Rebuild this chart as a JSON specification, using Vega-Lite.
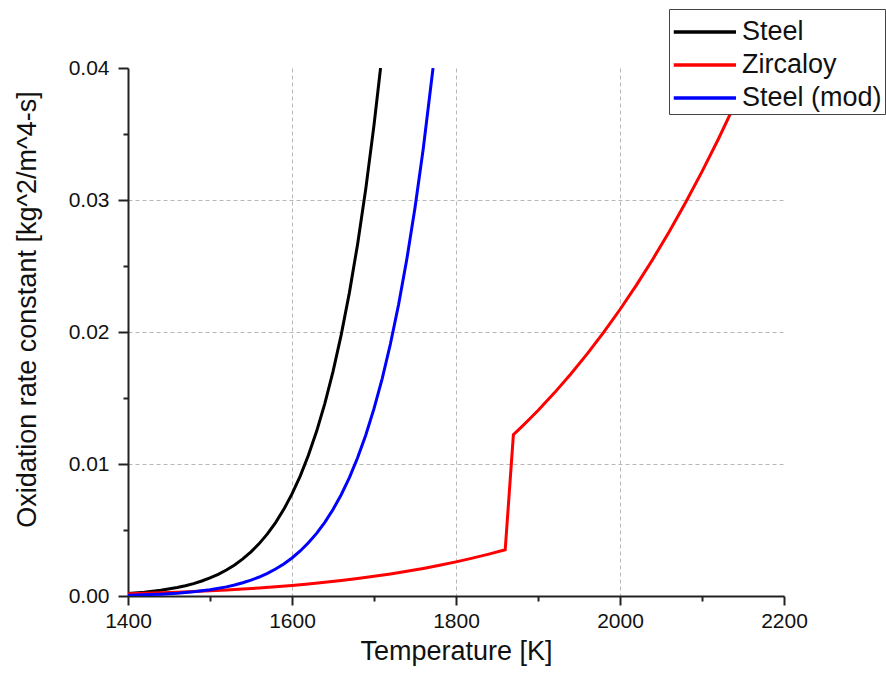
{
  "$schema": "https://vega.github.io/schema/vega-lite/v6.json",
  "width": 656,
  "height": 528,
  "autosize": {"type": "none"},
  "padding": {"left": 128, "top": 68, "right": 102, "bottom": 84},
  "background": "white",
  "config": {
    "view": {"stroke": null},
    "font": "Liberation Sans"
  },
  "data": {
    "values": [
      {"material": "Steel", "T": 1400, "k": 0.0001886},
      {"material": "Steel", "T": 1420, "k": 0.0002866},
      {"material": "Steel", "T": 1440, "k": 0.0004304},
      {"material": "Steel", "T": 1460, "k": 0.0006394},
      {"material": "Steel", "T": 1470, "k": 0.000776},
      {"material": "Steel", "T": 1480, "k": 0.0009396},
      {"material": "Steel", "T": 1490, "k": 0.001135},
      {"material": "Steel", "T": 1500, "k": 0.001367},
      {"material": "Steel", "T": 1510, "k": 0.001642},
      {"material": "Steel", "T": 1520, "k": 0.001968},
      {"material": "Steel", "T": 1530, "k": 0.002354},
      {"material": "Steel", "T": 1540, "k": 0.002808},
      {"material": "Steel", "T": 1550, "k": 0.003342},
      {"material": "Steel", "T": 1560, "k": 0.00397},
      {"material": "Steel", "T": 1570, "k": 0.004705},
      {"material": "Steel", "T": 1580, "k": 0.005563},
      {"material": "Steel", "T": 1590, "k": 0.006565},
      {"material": "Steel", "T": 1600, "k": 0.007732},
      {"material": "Steel", "T": 1610, "k": 0.009086},
      {"material": "Steel", "T": 1620, "k": 0.010656},
      {"material": "Steel", "T": 1630, "k": 0.012474},
      {"material": "Steel", "T": 1640, "k": 0.014574},
      {"material": "Steel", "T": 1650, "k": 0.016995},
      {"material": "Steel", "T": 1660, "k": 0.019782},
      {"material": "Steel", "T": 1670, "k": 0.022984},
      {"material": "Steel", "T": 1680, "k": 0.026657},
      {"material": "Steel", "T": 1690, "k": 0.03086},
      {"material": "Steel", "T": 1700, "k": 0.03567},
      {"material": "Steel", "T": 1708, "k": 0.04},
      {"material": "Zircaloy", "T": 1400, "k": 0.000177},
      {"material": "Zircaloy", "T": 1420, "k": 0.00021},
      {"material": "Zircaloy", "T": 1440, "k": 0.0002476},
      {"material": "Zircaloy", "T": 1460, "k": 0.0002908},
      {"material": "Zircaloy", "T": 1480, "k": 0.00034},
      {"material": "Zircaloy", "T": 1500, "k": 0.000396},
      {"material": "Zircaloy", "T": 1520, "k": 0.000459},
      {"material": "Zircaloy", "T": 1540, "k": 0.00053},
      {"material": "Zircaloy", "T": 1560, "k": 0.00061},
      {"material": "Zircaloy", "T": 1580, "k": 0.0007},
      {"material": "Zircaloy", "T": 1600, "k": 0.0008},
      {"material": "Zircaloy", "T": 1620, "k": 0.000912},
      {"material": "Zircaloy", "T": 1640, "k": 0.001035},
      {"material": "Zircaloy", "T": 1660, "k": 0.001172},
      {"material": "Zircaloy", "T": 1680, "k": 0.001323},
      {"material": "Zircaloy", "T": 1700, "k": 0.001489},
      {"material": "Zircaloy", "T": 1720, "k": 0.001671},
      {"material": "Zircaloy", "T": 1740, "k": 0.001871},
      {"material": "Zircaloy", "T": 1760, "k": 0.002089},
      {"material": "Zircaloy", "T": 1780, "k": 0.002327},
      {"material": "Zircaloy", "T": 1800, "k": 0.002586},
      {"material": "Zircaloy", "T": 1820, "k": 0.002867},
      {"material": "Zircaloy", "T": 1840, "k": 0.003171},
      {"material": "Zircaloy", "T": 1860, "k": 0.0035},
      {"material": "Zircaloy", "T": 1870, "k": 0.012229},
      {"material": "Zircaloy", "T": 1880, "k": 0.012817},
      {"material": "Zircaloy", "T": 1890, "k": 0.013426},
      {"material": "Zircaloy", "T": 1900, "k": 0.014057},
      {"material": "Zircaloy", "T": 1920, "k": 0.015389},
      {"material": "Zircaloy", "T": 1940, "k": 0.016815},
      {"material": "Zircaloy", "T": 1960, "k": 0.01834},
      {"material": "Zircaloy", "T": 1980, "k": 0.019968},
      {"material": "Zircaloy", "T": 2000, "k": 0.021704},
      {"material": "Zircaloy", "T": 2020, "k": 0.023552},
      {"material": "Zircaloy", "T": 2040, "k": 0.025516},
      {"material": "Zircaloy", "T": 2060, "k": 0.0276},
      {"material": "Zircaloy", "T": 2080, "k": 0.029811},
      {"material": "Zircaloy", "T": 2100, "k": 0.03215},
      {"material": "Zircaloy", "T": 2120, "k": 0.034624},
      {"material": "Zircaloy", "T": 2140, "k": 0.037237},
      {"material": "Zircaloy", "T": 2160, "k": 0.039994},
      {"material": "Steel (mod)", "T": 1400, "k": 0.0000601},
      {"material": "Steel (mod)", "T": 1420, "k": 0.0000928},
      {"material": "Steel (mod)", "T": 1440, "k": 0.0001419},
      {"material": "Steel (mod)", "T": 1460, "k": 0.0002143},
      {"material": "Steel (mod)", "T": 1480, "k": 0.0003202},
      {"material": "Steel (mod)", "T": 1500, "k": 0.000473},
      {"material": "Steel (mod)", "T": 1520, "k": 0.000692},
      {"material": "Steel (mod)", "T": 1530, "k": 0.000834},
      {"material": "Steel (mod)", "T": 1540, "k": 0.001003},
      {"material": "Steel (mod)", "T": 1550, "k": 0.001202},
      {"material": "Steel (mod)", "T": 1560, "k": 0.001438},
      {"material": "Steel (mod)", "T": 1570, "k": 0.001717},
      {"material": "Steel (mod)", "T": 1580, "k": 0.002045},
      {"material": "Steel (mod)", "T": 1590, "k": 0.00243},
      {"material": "Steel (mod)", "T": 1600, "k": 0.002882},
      {"material": "Steel (mod)", "T": 1610, "k": 0.00341},
      {"material": "Steel (mod)", "T": 1620, "k": 0.004027},
      {"material": "Steel (mod)", "T": 1630, "k": 0.004745},
      {"material": "Steel (mod)", "T": 1640, "k": 0.005581},
      {"material": "Steel (mod)", "T": 1650, "k": 0.006552},
      {"material": "Steel (mod)", "T": 1660, "k": 0.007674},
      {"material": "Steel (mod)", "T": 1670, "k": 0.008974},
      {"material": "Steel (mod)", "T": 1680, "k": 0.010474},
      {"material": "Steel (mod)", "T": 1690, "k": 0.012202},
      {"material": "Steel (mod)", "T": 1700, "k": 0.01419},
      {"material": "Steel (mod)", "T": 1710, "k": 0.016473},
      {"material": "Steel (mod)", "T": 1720, "k": 0.019089},
      {"material": "Steel (mod)", "T": 1730, "k": 0.022083},
      {"material": "Steel (mod)", "T": 1740, "k": 0.025504},
      {"material": "Steel (mod)", "T": 1750, "k": 0.02941},
      {"material": "Steel (mod)", "T": 1760, "k": 0.033853},
      {"material": "Steel (mod)", "T": 1772, "k": 0.04}
    ]
  },
  "mark": {"type": "line", "strokeWidth": 3, "clip": true},
  "encoding": {
    "x": {
      "field": "T",
      "type": "quantitative",
      "scale": {"domain": [1400, 2200], "nice": false, "zero": false},
      "axis": {
        "title": "Temperature [K]",
        "values": [1400, 1500, 1600, 1700, 1800, 1900, 2000, 2100, 2200],
        "labelExpr": "datum.value % 200 == 0 ? datum.label : ''",
        "format": "d",
        "labelFontSize": 21,
        "labelColor": "#111",
        "labelPadding": 5,
        "labelFlush": false,
        "titleFontSize": 27,
        "titleFontWeight": "normal",
        "titleColor": "#111",
        "titleBaseline": "alphabetic",
        "titleY": 63,
        "domainColor": "#222",
        "domainWidth": 2,
        "tickColor": "#222",
        "tickWidth": 2,
        "tickSize": {"condition": {"test": "datum.value % 200 == 0", "value": 9}, "value": 5},
        "grid": true,
        "gridColor": "#b8b8b8",
        "gridDash": [4, 3],
        "gridWidth": 1,
        "gridOpacity": {"condition": {"test": "datum.value % 200 != 0 || datum.value == 1400 || datum.value == 2200", "value": 0}, "value": 1}
      }
    },
    "y": {
      "field": "k",
      "type": "quantitative",
      "scale": {"domain": [0, 0.04], "nice": false},
      "axis": {
        "title": "Oxidation rate constant [kg^2/m^4-s]",
        "values": [0, 0.005, 0.01, 0.015, 0.02, 0.025, 0.03, 0.035, 0.04],
        "format": ".2f",
        "labelExpr": "round(datum.value * 1000) % 10 == 0 ? datum.label : ''",
        "labelFontSize": 21,
        "labelColor": "#111",
        "labelPadding": 9,
        "labelFlush": false,
        "titleFontSize": 27,
        "titleFontWeight": "normal",
        "titleColor": "#111",
        "titleBaseline": "alphabetic",
        "titleAlign": "center",
        "titleAngle": 270,
        "titleX": -93,
        "titleY": 241,
        "domainColor": "#222",
        "domainWidth": 2,
        "tickColor": "#222",
        "tickWidth": 2,
        "tickSize": {"condition": {"test": "round(datum.value * 1000) % 10 == 0", "value": 10}, "value": 5},
        "grid": true,
        "gridColor": "#b8b8b8",
        "gridDash": [4, 3],
        "gridWidth": 1,
        "gridOpacity": {"condition": {"test": "round(datum.value * 1000) % 10 != 0 || datum.value == 0 || datum.value == 0.04", "value": 0}, "value": 1}
      }
    },
    "color": {
      "field": "material",
      "type": "nominal",
      "scale": {"domain": ["Steel", "Zircaloy", "Steel (mod)"], "range": ["#000000", "#ff0000", "#0000ff"]},
      "legend": {
        "title": null,
        "orient": "none",
        "legendX": 541,
        "legendY": -59,
        "symbolType": "M-1,0H2.41",
        "symbolSize": 1332,
        "symbolStrokeWidth": 3.5,
        "labelFontSize": 27,
        "labelColor": "#111",
        "labelLimit": 400,
        "labelOffset": 30,
        "rowPadding": 0,
        "padding": 3,
        "strokeColor": "#444",
        "fillColor": "white",
        "cornerRadius": 0
      }
    }
  }
}
